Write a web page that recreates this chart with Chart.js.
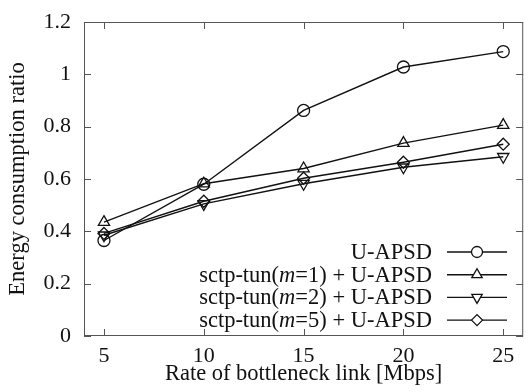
<!DOCTYPE html>
<html>
<head>
<meta charset="utf-8">
<script src="https://cdn.jsdelivr.net/npm/chart.js@4/dist/chart.umd.min.js"></script>
<style>
  html, body { margin: 0; padding: 0; background: #fff; }
  #wrap { width: 531px; height: 392px; }
</style>
</head>
<body>
<div id="wrap"><canvas id="chart" width="531" height="392"></canvas></div>
<script>
// data
const rates = [5, 10, 15, 20, 25];
const xTicks = [5, 10, 15, 20, 25];
const yTicks = [0, 0.2, 0.4, 0.6, 0.8, 1, 1.2];
const yTickLabels = ['0', '0.2', '0.4', '0.6', '0.8', '1', '1.2'];

const uapsd = [0.365, 0.58, 0.862, 1.028, 1.087];
const sctpM1 = [0.435, 0.582, 0.64, 0.737, 0.806];
const sctpM2 = [0.385, 0.505, 0.582, 0.645, 0.685];
const sctpM5 = [0.392, 0.515, 0.603, 0.664, 0.733];

const seriesLabels = ['U-APSD', 'sctp-tun(m=1) + U-APSD', 'sctp-tun(m=2) + U-APSD', 'sctp-tun(m=5) + U-APSD'];
const markers = ['circle', 'triangle', 'triangle', 'rectRot'];
const rotations = [0, 0, 180, 0];
const radii = [6, 6.5, 6.5, 6];

const FONT = '"Liberation Serif", "Times New Roman", serif';
const AXIS = '#555';
const LEG_SIZE = 22.5;

function mkSet(i, vals) {
  return {
    label: seriesLabels[i],
    data: rates.map((r, k) => ({ x: r, y: vals[k] })),
    borderColor: '#111',
    backgroundColor: 'transparent',
    borderWidth: 1.4,
    pointStyle: markers[i],
    pointRotation: rotations[i],
    pointRadius: radii[i],
    pointBorderColor: '#111',
    pointBorderWidth: 1.3,
    pointBackgroundColor: 'transparent',
    tension: 0
  };
}

// box, inward ticks and the legend (text left of sample, like gnuplot)
const frame = {
  id: 'frame',
  afterDraw(chart) {
    const c = chart.ctx, a = chart.chartArea;
    const xs = chart.scales.x, ys = chart.scales.y;
    c.save();
    c.strokeStyle = AXIS;
    c.lineWidth = 1;
    c.strokeRect(a.left + 0.5, a.top + 0.5, a.right - a.left - 1, a.bottom - a.top - 1);
    const t = 7;
    c.beginPath();
    xTicks.forEach(v => {
      const px = Math.round(xs.getPixelForValue(v)) + 0.5;
      c.moveTo(px, a.bottom); c.lineTo(px, a.bottom - t);
      c.moveTo(px, a.top); c.lineTo(px, a.top + t);
    });
    yTicks.forEach(v => {
      const py = Math.round(ys.getPixelForValue(v)) + 0.5;
      c.moveTo(a.left, py); c.lineTo(a.left + t, py);
      c.moveTo(a.right, py); c.lineTo(a.right - t, py);
    });
    c.stroke();

    // legend
    const textRight = 432, lineL = 447, lineR = 507, y0 = 252, dy = 22.7;
    c.textBaseline = 'middle';
    chart.data.datasets.forEach((ds, i) => {
      const y = y0 + i * dy;
      const parts = ds.label.split(/\((m)=/);
      let segs;
      if (parts.length === 3) {
        segs = [[parts[0] + '(', false], ['m', true], ['=' + parts[2], false]];
      } else {
        segs = [[ds.label, false]];
      }
      let w = 0;
      segs.forEach(s => { c.font = (s[1] ? 'italic ' : '') + LEG_SIZE + 'px ' + FONT; w += c.measureText(s[0]).width; });
      let x = textRight - w;
      c.fillStyle = '#111';
      c.textAlign = 'left';
      segs.forEach(s => {
        c.font = (s[1] ? 'italic ' : '') + LEG_SIZE + 'px ' + FONT;
        c.fillText(s[0], x, y + 1);
        x += c.measureText(s[0]).width;
      });
      c.strokeStyle = '#111';
      c.lineWidth = 1.4;
      c.beginPath(); c.moveTo(lineL, y); c.lineTo(lineR, y); c.stroke();
      c.lineWidth = 1.3;
      c.fillStyle = '#fff';
      Chart.helpers.drawPoint(c, {
        pointStyle: ds.pointStyle, rotation: ds.pointRotation, radius: ds.pointRadius - 0.5, borderWidth: 1.3
      }, (lineL + lineR) / 2, y);
    });
    c.restore();
  }
};

new Chart(document.getElementById('chart'), {
  type: 'line',
  data: {
    datasets: [mkSet(0, uapsd), mkSet(1, sctpM1), mkSet(2, sctpM2), mkSet(3, sctpM5)]
  },
  options: {
    responsive: false,
    animation: false,
    layout: { padding: { top: 22, right: 1, left: 5, bottom: 4 } },
    plugins: { legend: { display: false }, tooltip: { enabled: false } },
    scales: {
      x: {
        type: 'linear', min: 4, max: 26,
        afterBuildTicks: s => { s.ticks = xTicks.map(v => ({ value: v })); },
        afterFit: s => { s.height = 52; s.paddingLeft = 0; s.paddingRight = 0; },
        grid: { display: false, drawTicks: false },
        border: { display: false },
        ticks: { color: '#111', padding: 7, font: { family: FONT, size: 22 }, maxRotation: 0 },
        title: { display: true, text: 'Rate of bottleneck link [Mbps]', color: '#111', padding: { top: 0, bottom: 0 }, font: { family: FONT, size: 22.5 } }
      },
      y: {
        min: 0, max: 1.2,
        afterBuildTicks: s => { s.ticks = yTicks.map(v => ({ value: v })); },
        afterFit: s => { s.width = 79; s.paddingTop = 0; s.paddingBottom = 0; },
        grid: { display: false, drawTicks: false },
        border: { display: false },
        ticks: { color: '#111', padding: 13, font: { family: FONT, size: 22 }, callback: (v, i) => yTickLabels[i] },
        title: { display: true, text: 'Energy consumption ratio', color: '#111', padding: { top: 0, bottom: 0 }, font: { family: FONT, size: 22.5 } }
      }
    }
  },
  plugins: [frame]
});
</script>
</body>
</html>
